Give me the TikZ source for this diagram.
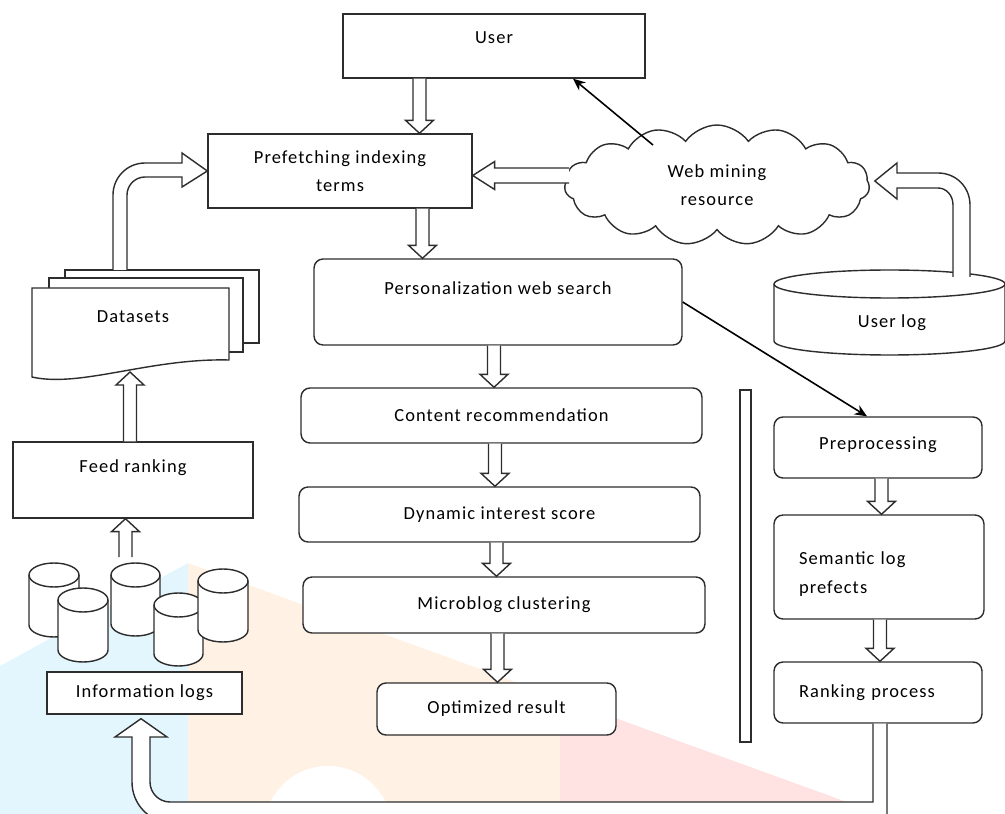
\documentclass[tikz,border=0pt]{standalone}
\usepackage{fontspec}
\setmainfont{Carlito}[LetterSpace=6]
\usetikzlibrary{arrows.meta,shapes.symbols,calc}
\definecolor{linegray}{RGB}{45,45,45}

\newcommand{\shaftw}{0.13cm}
\newcommand{\headw}{0.28cm}
\newcommand{\headl}{0.26cm}
% hollow block arrows: x position (px), start anchor, tip anchor
\newcommand{\blockdown}[3]{%
  \draw[hollow] let \p3=(#1,0), \p1=(#2), \p2=(#3) in
    (\x3-\shaftw,\y1) -- (\x3-\shaftw,\y2+\headl) -- (\x3-\headw,\y2+\headl) -- (\x3,\y2)
    -- (\x3+\headw,\y2+\headl) -- (\x3+\shaftw,\y2+\headl) -- (\x3+\shaftw,\y1);}
\newcommand{\blockup}[3]{%
  \draw[hollow] let \p3=(#1,0), \p1=(#2), \p2=(#3) in
    (\x3-\shaftw,\y1) -- (\x3-\shaftw,\y2-\headl) -- (\x3-\headw,\y2-\headl) -- (\x3,\y2)
    -- (\x3+\headw,\y2-\headl) -- (\x3+\shaftw,\y2-\headl) -- (\x3+\shaftw,\y1);}
% database drum: x centre, y of top ellipse, x radius, height, y radius
\newcommand{\dbcyl}[5]{%
  \draw[fill=white] (#1-#3,#2) -- (#1-#3,#2-#4) arc[start angle=180,end angle=360,x radius=#3,y radius=#5]
    -- (#1+#3,#2) arc[start angle=0,end angle=180,x radius=#3,y radius=#5] -- cycle;
  \draw (#1+#3,#2) arc[start angle=0,end angle=-180,x radius=#3,y radius=#5];}

\begin{document}
\begin{tikzpicture}[
    x=0.02cm, y=0.02cm,
    line width=0.8pt, draw=linegray,
    every node/.style={font=\fontsize{10.5}{16}\selectfont},
    box/.style={rectangle, draw=linegray, fill=white, align=center},
    rbox/.style={box, rounded corners=0.18cm},
    hollow/.style={draw=linegray, fill=white, line join=miter},
    link/.style={draw=black, line width=0.9pt, -{Stealth[length=7pt,width=6pt]}}
]
    \useasboundingbox (0,0) rectangle (1005,-814);
    \clip (0,0) rectangle (1005,-814);

    % faint watermark behind the chart
    \fill[cyan!11] (0,-666) -- (188,-563) -- (188,-814) -- (0,-814) -- cycle;
    \fill[orange!10] (188,-563) -- (560,-698) -- (560,-814) -- (188,-814) -- cycle;
    \fill[red!11] (560,-698) -- (880,-814) -- (560,-814) -- cycle;
    \fill[white] (328,-830) circle[radius=64];

    \node[box, minimum width=6.04cm, minimum height=1.28cm, text depth=0.32cm] (user) at (494,-46) {User};
    \node[box, minimum width=5.28cm, minimum height=1.48cm] (pref) at (340,-171) {Prefetching indexing\\terms};
    \node[cloud, cloud puffs=15, cloud puff arc=110, cloud ignores aspect, draw=linegray, fill=white,
          minimum width=6.1cm, minimum height=2.4cm, align=center] (web) at (717,-185) {Web mining\\resource};

    \node[rbox, minimum width=7.36cm, minimum height=1.72cm, text depth=0.56cm] (pers) at (498,-302) {Personalization web search};
    \node[rbox, minimum width=8.02cm, minimum height=1.1cm] (cont) at (501.5,-415.5) {Content recommendation};
    \node[rbox, minimum width=8.02cm, minimum height=1.1cm] (dyn) at (499.5,-514.5) {Dynamic interest score};
    \node[rbox, minimum width=8.04cm, minimum height=1.12cm] (micro) at (504,-605) {Microblog clustering};
    \node[rbox, minimum width=4.78cm, minimum height=1.04cm] (opt) at (496.5,-709) {Optimized result};

    \node[draw=linegray, minimum width=0.22cm, minimum height=7.04cm, inner sep=0pt] (bar) at (745.5,-566) {};

    \node[rbox, minimum width=4.16cm, minimum height=1.22cm, text depth=0.16cm] (prep) at (878,-447.5) {Preprocessing};
    \node[rbox, align=left, text width=3.2cm, inner xsep=0.5cm, minimum height=2.08cm, text depth=0.34cm] (sem) at (879,-567) {Semantic log\\prefects};
    \node[rbox, align=left, text width=3.16cm, inner xsep=0.5cm, minimum height=1.22cm] (rank) at (878,-692.5) {Ranking process};

    % user log drum
    \dbcyl{889.5}{-284}{115.5}{57}{14}
    \node (ulog) at (892,-323) {User log};

    % stacked datasets
    \draw[fill=white] (65,-270) rectangle (259,-343);
    \draw[fill=white] (49,-278) rectangle (243,-352);
    \draw[fill=white] (32,-288) -- (229,-288) -- (229,-360) .. controls (150,-358) and (80,-388) .. (32,-377) -- cycle;
    \node (data) at (133,-317) {Datasets};
    \coordinate (datawave) at (130,-372);

    \node[box, minimum width=4.8cm, minimum height=1.52cm, text depth=0.56cm] (feed) at (133,-480) {Feed ranking};

    % information log drums
    \dbcyl{54}{-575}{25}{50}{12}
    \dbcyl{83}{-600}{25}{50}{12}
    \dbcyl{135.5}{-575}{24.5}{49}{12}
    \dbcyl{178.5}{-605}{24.5}{49}{12}
    \dbcyl{223}{-581}{25}{49}{12}
    \coordinate (dbtop) at (125.5,-557);

    \node[box, minimum width=3.9cm, minimum height=0.84cm] (info) at (144.5,-693) {Information logs};

    % block arrows
    \blockdown{419.5}{user.south}{pref.north}
    \blockdown{422.5}{pref.south}{pers.north}
    \blockdown{494}{pers.south}{cont.north}
    \blockdown{495}{cont.south}{dyn.north}
    \blockdown{496.5}{dyn.south}{micro.north}
    \blockdown{497.5}{micro.south}{opt.north}
    \blockdown{881.5}{prep.south}{sem.north}
    \blockdown{880}{sem.south}{rank.north}
    \blockup{130}{feed.north}{datawave}
    \blockup{125.5}{dbtop}{feed.south}

    \draw[hollow] let \p1=($(web.west)+(5,9.5)$), \p2=(pref.east) in
        (\x1,\y1+0.15cm) -- (\x2+0.44cm,\y1+0.15cm) -- (\x2+0.44cm,\y1+0.28cm) -- (\x2,\y1)
        -- (\x2+0.44cm,\y1-0.28cm) -- (\x2+0.44cm,\y1-0.15cm) -- (\x1,\y1-0.15cm);

    \draw[hollow] (113,-270) -- (113,-195) .. controls (113,-177.3) and (127.3,-163) .. (145,-163)
        -- (182,-163) -- (182,-153) -- (pref.west) -- (182,-187) -- (182,-177) -- (145,-177)
        .. controls (135.1,-177) and (127,-185.1) .. (127,-195) -- (127,-270);

    \draw[hollow] (970,-277) -- (970,-205) .. controls (970,-187) and (956,-173) .. (938,-173)
        -- (897,-173) -- (897,-163) -- ($(web.east)+(5,4)$) -- (897,-199) -- (897,-188) -- (938,-188)
        .. controls (946,-188) and (953,-195) .. (953,-205) -- (953,-277);

    \draw[hollow] ($(rank.south)+(-5,0)$) -- (873,-802) -- (170,-802) .. controls (159,-802) and (150,-793) .. (150,-782)
        -- (150,-737) -- (167,-737) -- ($(info.south)+(-3.5,-4)$) -- (115,-737) -- (132,-737) -- (132,-782)
        .. controls (132,-804) and (149,-822) .. (170,-822) -- (887,-822) -- ($(rank.south)+(9,0)$);

    % thin arrows
    \draw[link] ($(web.center)+(-64,40)$) -- ($(user.south)+(79,0)$);
    \draw[link] (pers.east) -- ($(prep.north)+(-11,0)$);
\end{tikzpicture}
\end{document}
